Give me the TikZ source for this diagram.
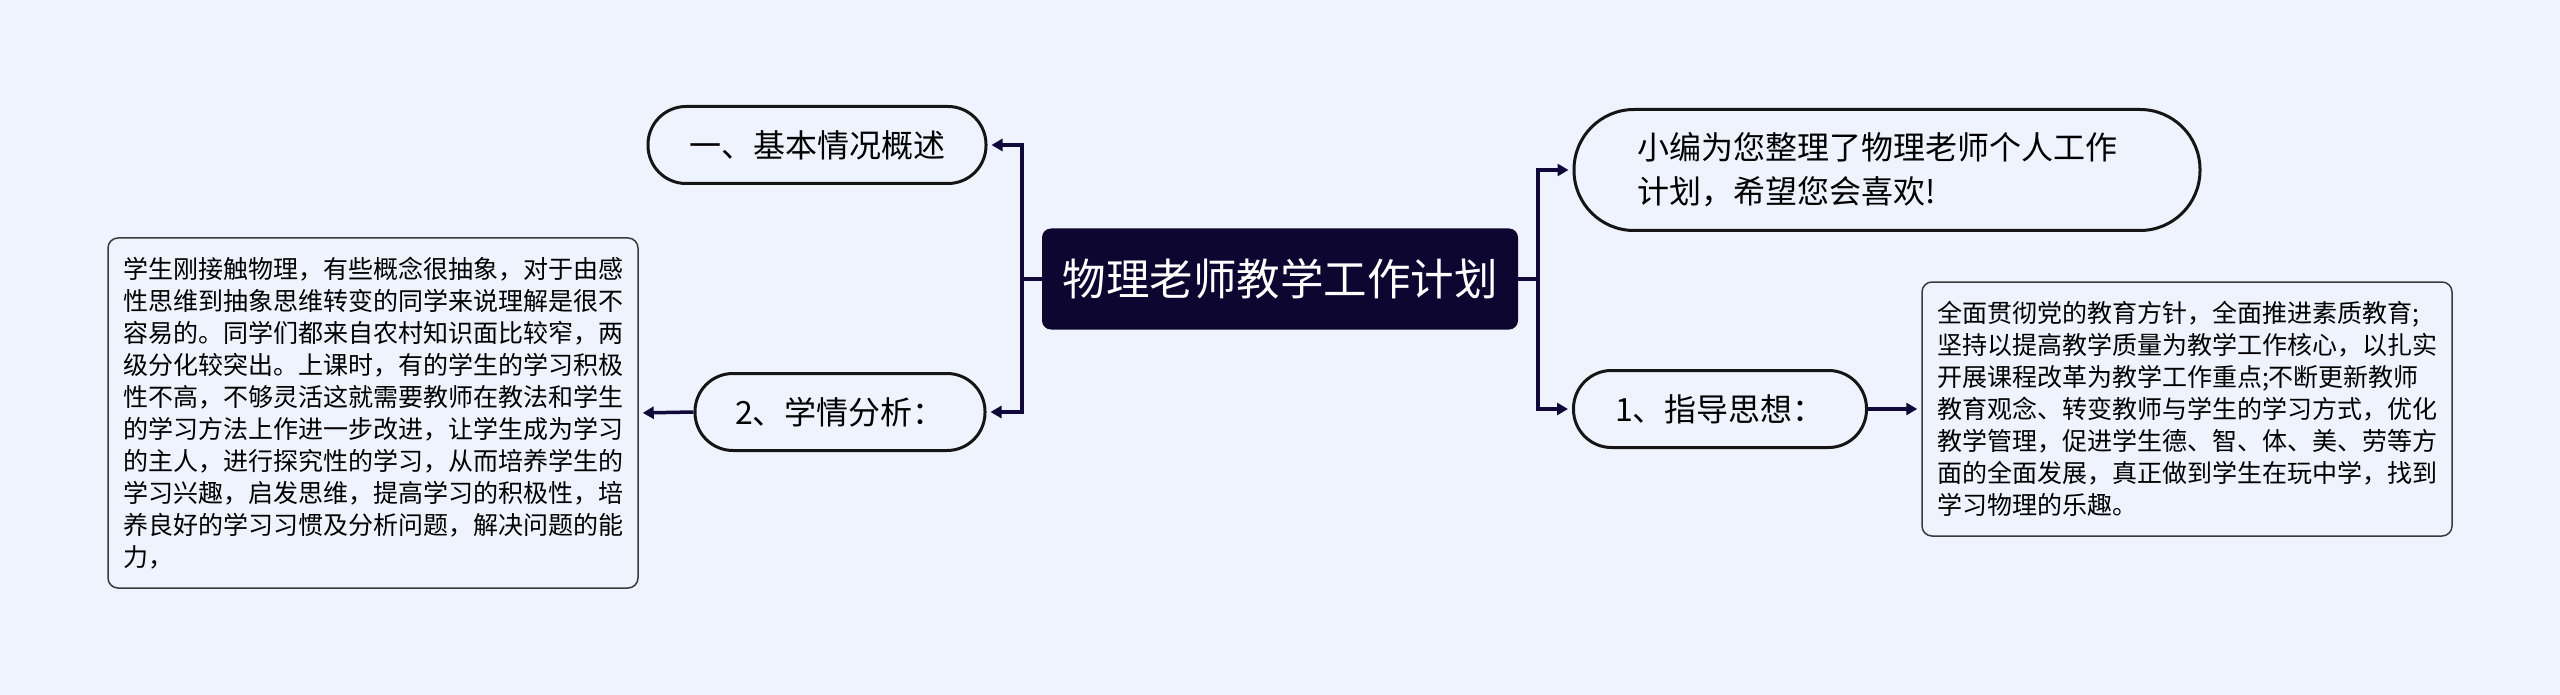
\documentclass[tikz,border=0pt]{standalone}
\usepackage{fontspec}
\setmainfont{Noto Sans CJK SC}
\usepackage{xcolor}
\usetikzlibrary{arrows.meta}
\definecolor{paper}{HTML}{EEF3FE}
\definecolor{rootnavy}{HTML}{0C0630}
\definecolor{linknavy}{HTML}{10083A}
\definecolor{pillline}{HTML}{151515}
\definecolor{noteline}{HTML}{3A3A3A}
\tikzset{
  rootbox/.style={fill=rootnavy,text=white,rounded corners=9pt,inner sep=0pt,
    minimum width=476pt,minimum height=101pt,font=\fontsize{43.5pt}{52pt}\selectfont},
  pillbox/.style={draw=pillline,line width=3pt,fill=paper,inner sep=0pt,
    rounded corners=38pt,minimum height=77pt,font=\fontsize{32pt}{44pt}\selectfont},
  notebox/.style={draw=noteline,line width=1.5pt,fill=paper,rounded corners=10pt,
    inner sep=0pt,minimum width=530pt,text width=500pt,align=left,
    font=\fontsize{25pt}{32pt}\selectfont},
  trunkline/.style={line width=3.5pt,draw=linknavy},
  linkarrow/.style={-{Triangle[length=11pt,width=12pt]},line width=3.5pt,
    draw=linknavy,shorten >=4pt}
}
\begin{document}
\begin{tikzpicture}[x=1pt,y=-1pt]
  \fill[paper] (0,0) rectangle (2560,695);
  \useasboundingbox (0,0) rectangle (2560,695);
  % centre
  \node[rootbox] (root) at (1280,279) {物理老师教学工作计划};
  \coordinate (leftfork) at (1022,279);
  \coordinate (rightfork) at (1538,279);
  % left branches
  \node[pillbox,minimum width=338pt] (basic) at (817,145) {一、基本情况概述};
  \node[pillbox,minimum width=290pt] (study) at (840,412) {2、学情分析：};
  \node[notebox,minimum height=350pt] (studynote) at (373,413) {%
    学生刚接触物理，有些概念很抽象，对于由感\\
    性思维到抽象思维转变的同学来说理解是很不\\
    容易的。同学们都来自农村知识面比较窄，两\\
    级分化较突出。上课时，有的学生的学习积极\\
    性不高，不够灵活这就需要教师在教法和学生\\
    的学习方法上作进一步改进，让学生成为学习\\
    的主人，进行探究性的学习，从而培养学生的\\
    学习兴趣，启发思维，提高学习的积极性，培\\
    养良好的学习习惯及分析问题，解决问题的能\\
    力，};
  % right branches
  \node[pillbox,minimum width=626pt,minimum height=121pt,rounded corners=60pt,
    text width=500pt,align=left] (hello) at (1887,170) {小编为您整理了物理老师个人工作\\计划，希望您会喜欢!};
  \node[pillbox,minimum width=293pt] (guide) at (1720,409) {1、指导思想：};
  \node[notebox,minimum height=254pt] (guidenote) at (2187,409) {%
    全面贯彻党的教育方针，全面推进素质教育;\\
    坚持以提高教学质量为教学工作核心，以扎实\\
    开展课程改革为教学工作重点;不断更新教师\\
    教育观念、转变教师与学生的学习方式，优化\\
    教学管理，促进学生德、智、体、美、劳等方\\
    面的全面发展，真正做到学生在玩中学，找到\\
    学习物理的乐趣。};
  % connectors
  \draw[trunkline] (root.west) -- (leftfork);
  \draw[linkarrow] (leftfork) |- (basic.east);
  \draw[linkarrow] (leftfork) |- (study.east);
  \draw[trunkline] (root.east) -- (rightfork);
  \draw[linkarrow] (rightfork) |- (hello.west);
  \draw[linkarrow] (rightfork) |- (guide.west);
  \draw[linkarrow] (guide.east) -- (guidenote.west);
  \draw[linkarrow] (study.west) -- (studynote.east);
\end{tikzpicture}
\end{document}
